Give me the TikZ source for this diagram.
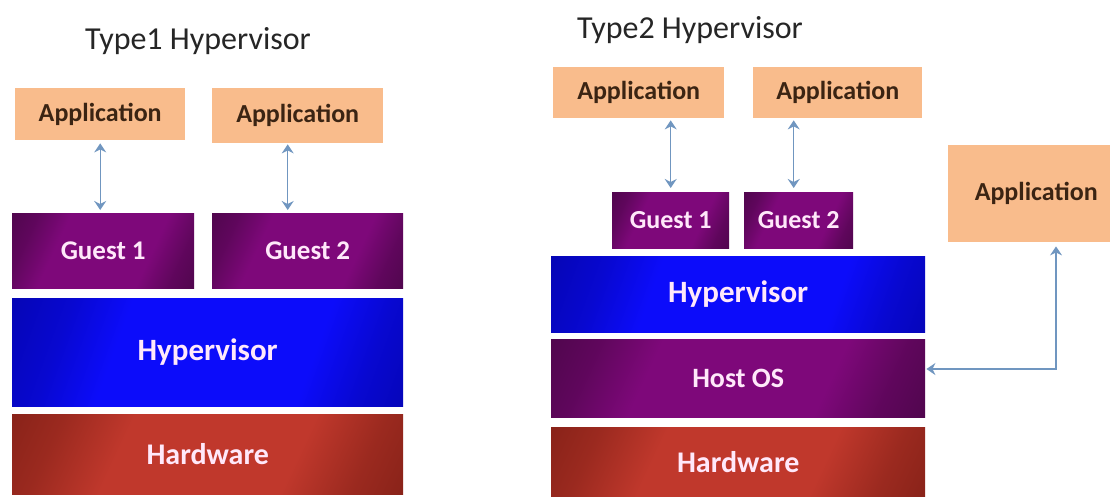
\documentclass[tikz,border=0pt]{standalone}
\usepackage{fontspec}
\setmainfont{Carlito}
\usetikzlibrary{arrows.meta,calc}
\definecolor{appfill}{RGB}{249,188,140}
\definecolor{apptext}{RGB}{59,36,19}
\definecolor{purpD}{RGB}{50,4,48}
\definecolor{purpL}{RGB}{126,8,122}
\definecolor{blueD}{RGB}{0,0,130}
\definecolor{blueL}{RGB}{12,12,250}
\definecolor{redD}{RGB}{100,20,12}
\definecolor{redL}{RGB}{192,56,44}
\definecolor{arrowc}{RGB}{112,150,192}
\definecolor{glow}{RGB}{255,232,250}
\pgfdeclarehorizontalshading{purpsh}{100bp}{color(0bp)=(purpD); color(25bp)=(purpD!40!purpL); color(35bp)=(purpL); color(65bp)=(purpL); color(75bp)=(purpD!40!purpL); color(100bp)=(purpD)}
\pgfdeclarehorizontalshading{bluesh}{100bp}{color(0bp)=(blueD); color(27bp)=(blueD!35!blueL); color(36bp)=(blueL); color(66bp)=(blueL); color(75bp)=(blueD!35!blueL); color(100bp)=(blueD)}
\pgfdeclarehorizontalshading{redsh}{100bp}{color(0bp)=(redD); color(25bp)=(redD!40!redL); color(36bp)=(redL); color(64bp)=(redL); color(75bp)=(redD!40!redL); color(100bp)=(redD)}
\tikzset{
  layer/.style={anchor=north west, inner sep=0pt, text=glow, font=\bfseries\fontsize{27}{30}\selectfont},
  appbox/.style={anchor=north west, inner sep=0pt, fill=appfill, text=apptext, font=\bfseries\fontsize{26}{28}\selectfont},
  purplebox/.style={layer, shade, shading=purpsh, shading angle=-25},
  bluebox/.style={layer, shade, shading=bluesh, shading angle=-20, font=\bfseries\fontsize{31}{33}\selectfont},
  redbox/.style={layer, shade, shading=redsh, shading angle=-25, font=\bfseries\fontsize{30}{32}\selectfont},
  titletext/.style={text=black!85, font=\fontsize{32}{34}\selectfont},
  conn/.style={draw=arrowc, line width=1.4pt, {Stealth[length=9pt,width=12pt,inset=3pt]}-{Stealth[length=9pt,width=12pt,inset=3pt]}}
}
\begin{document}
\begin{tikzpicture}[x=1pt,y=-1pt]
\useasboundingbox (0,0) rectangle (1110,496);
\clip (0,0) rectangle (1110,496);
\fill[white] (0,0) rectangle (1110,496);
% ---------- Type 1 ----------
\node[titletext] (t1) at (198,41) {Type1 Hypervisor};
\node[appbox, minimum width=170pt, minimum height=52pt] (a1) at (15,88) {Application};
\node[appbox, minimum width=171pt, minimum height=55pt] (a2) at (212,88) {Application};
\node[purplebox, minimum width=182pt, minimum height=75pt] (g1) at (12,213) {Guest 1};
\node[purplebox, minimum width=191pt, minimum height=75pt] (g2) at (212,213) {Guest 2};
\node[bluebox, minimum width=391pt, minimum height=108pt] (h1) at (12,298) {Hypervisor};
\node[redbox, minimum width=391pt, minimum height=80pt] (hw1) at (12,414) {Hardware};
\draw[conn] ([yshift=-3pt]a1.south) -- ([yshift=3pt]a1.south |- g1.north);
\draw[conn] ([xshift=-10pt,yshift=-1pt]a2.south) -- ([xshift=-10pt,yshift=3pt]a2.south |- g2.north);
% ---------- Type 2 ----------
\node[titletext] (t2) at (690,30) {Type2 Hypervisor};
\node[appbox, minimum width=171pt, minimum height=51pt] (b1) at (553,67) {Application};
\node[appbox, minimum width=169pt, minimum height=51pt] (b2) at (753,67) {Application};
\node[appbox, minimum width=176pt, minimum height=97pt] (b3) at (948,145) {Application};
\node[purplebox, minimum width=117pt, minimum height=56pt, font=\bfseries\fontsize{26}{28}\selectfont] (h2g1) at (612,192) {Guest 1};
\node[purplebox, minimum width=109pt, minimum height=56pt, font=\bfseries\fontsize{26}{28}\selectfont] (h2g2) at (744,192) {Guest 2};
\node[bluebox, minimum width=374pt, minimum height=76pt] (h2) at (551,256) {Hypervisor};
\node[purplebox, minimum width=374pt, minimum height=78pt, font=\bfseries\fontsize{28}{30}\selectfont] (os) at (551,339) {Host OS};
\node[redbox, minimum width=374pt, minimum height=70pt] (hw2) at (551,427) {Hardware};
\draw[conn] ([yshift=-2pt]h2g1.north |- b1.south) -- ([yshift=4pt]h2g1.north);
\draw[conn] ([xshift=-5pt,yshift=-2pt]h2g2.north |- b2.south) -- ([xshift=-5pt,yshift=4pt]h2g2.north);
\coordinate (bend) at (1056,369);
\draw[conn] ([yshift=-4pt]bend |- b3.south) -- (bend) -- ([xshift=1pt]os.east |- bend);
\end{tikzpicture}
\end{document}
